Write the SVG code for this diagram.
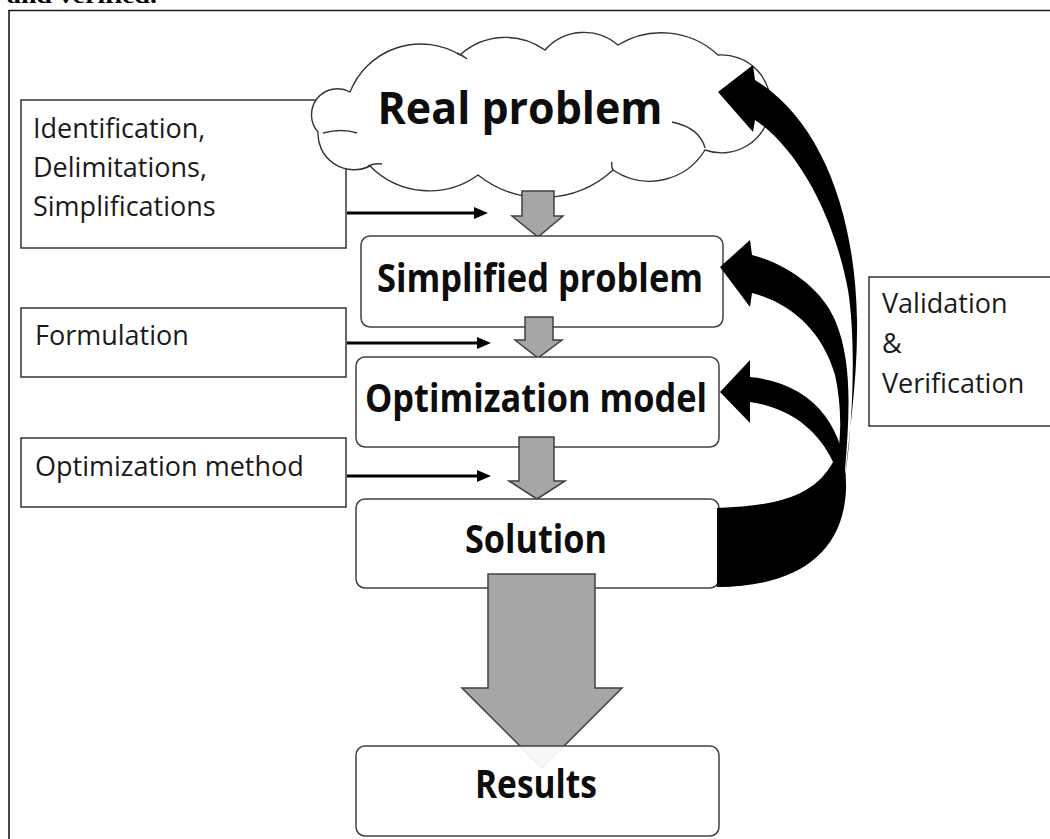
<svg xmlns="http://www.w3.org/2000/svg" width="1050" height="839" viewBox="0 0 1050 839">
  <defs>
    <style>
      .frame { fill: none; stroke: #1a1a1a; stroke-width: 1.6; }
      .lbox { fill: #ffffff; stroke: #333333; stroke-width: 1.5; }
      .node { fill: #ffffff; fill-opacity: 0.92; stroke: #404040; stroke-width: 1.5; }
      .cloud { fill: #ffffff; stroke: #333333; stroke-width: 1.4; }
      .cloud-in { fill: none; stroke: #333333; stroke-width: 1.4; }
      .block { fill: #a6a6a6; stroke: #404040; stroke-width: 1.5; stroke-linejoin: miter; }
      .feed { stroke: #000000; stroke-width: 3.2; fill: none; }
      .feedhead { fill: #000000; }
      .loop { fill: #000000; stroke: none; }
      .t { font-family: "Open Sans", "DejaVu Sans", sans-serif; font-size: 27px; fill: #1a1a1a; }
      .b { font-family: "Open Sans", "DejaVu Sans", sans-serif; font-weight: 700; fill: #0d0d0d; text-anchor: middle; }
      .cap { font-family: "Liberation Serif", serif; font-weight: 700; font-size: 20px; fill: #000000; }
    </style>
  </defs>

  <rect width="1050" height="839" fill="#ffffff"/>

  <!-- caption line cut at the top edge -->
  <text class="cap" x="7" y="3" textLength="150" lengthAdjust="spacingAndGlyphs">and verified.</text>

  <!-- outer frame (open on the right and bottom) -->
  <path class="frame" d="M9,839 L9,10.5 L1050,10.5"/>

  <!-- side input boxes -->
  <g id="identification">
    <rect class="lbox" x="21" y="100" width="325" height="148"/>
    <text class="t" x="33" y="138">Identification,</text>
    <text class="t" x="33" y="177">Delimitations,</text>
    <text class="t" x="33" y="216">Simplifications</text>
  </g>
  <g id="formulation">
    <rect class="lbox" x="21" y="308" width="325" height="69"/>
    <text class="t" x="35" y="345">Formulation</text>
  </g>
  <g id="optimization-method">
    <rect class="lbox" x="21" y="438" width="325" height="69"/>
    <text class="t" x="35" y="476">Optimization method</text>
  </g>

  <!-- real problem cloud -->
  <g id="real-problem">
    <path class="cloud" d="M350,92 A76,76 0 0 1 460,55 A68,68 0 0 1 545,50 A52,52 0 0 1 618,45 A83,83 0 0 1 718,55 A49,49 0 1 1 705,150 A65,65 0 0 1 613,170 A104,104 0 0 1 478,175 A83,83 0 0 1 370,166 A36,36 0 0 1 318,132 A26,26 0 0 1 350,92 Z"/>
    <path class="cloud-in" d="M672,122 Q700,128 705,148 M323,133 Q342,128 357,133 M368,166 Q375,163 382,164 M457,53 Q462,55 467,59 M612,162 Q611,167 613,170"/>
    <text class="b" x="520" y="124" font-size="44" textLength="285" lengthAdjust="spacingAndGlyphs">Real problem</text>
  </g>

  <!-- main chain: block arrows and process boxes -->
  <g id="connectors-main">
    <polygon class="block" points="522,191 554,191 554,216 563,216 538,237 512,216 522,216"/>
  </g>
  <g id="simplified-problem">
    <rect class="node" x="361" y="236" width="362" height="91" rx="9"/>
    <text class="b" x="540" y="292" font-size="39" textLength="326" lengthAdjust="spacingAndGlyphs">Simplified problem</text>
  </g>
  <g id="connectors-main-2">
    <polygon class="block" points="525,317 553,317 553,340 562,340 538,358 515,340 525,340"/>
  </g>
  <g id="optimization-model">
    <rect class="node" x="356" y="357" width="363" height="90" rx="9"/>
    <text class="b" x="536" y="412" font-size="39" textLength="342" lengthAdjust="spacingAndGlyphs">Optimization model</text>
  </g>
  <g id="connectors-main-3">
    <polygon class="block" points="519,437 554,437 554,481 565,481 537,499 509,481 519,481"/>
  </g>
  <g id="solution">
    <rect class="node" x="356" y="499" width="363" height="89" rx="9"/>
    <text class="b" x="536" y="553" font-size="39" textLength="142" lengthAdjust="spacingAndGlyphs">Solution</text>
  </g>
  <g id="connectors-main-4">
    <polygon class="block" points="488,574 595,574 595,688 622,688 542,768 462,688 488,688"/>
  </g>
  <g id="results">
    <rect class="node" x="356" y="746" width="363" height="90" rx="9"/>
    <text class="b" x="536" y="798" font-size="39" textLength="122" lengthAdjust="spacingAndGlyphs">Results</text>
  </g>

  <!-- validation label -->
  <g id="validation">
    <rect class="lbox" x="869" y="277" width="190" height="149"/>
    <text class="t" x="882" y="313">Validation</text>
    <text class="t" x="882" y="353">&amp;</text>
    <text class="t" x="882" y="393">Verification</text>
  </g>

  <!-- input arrows and feedback loops -->
  <g id="connectors">
    <line class="feed" x1="347" y1="213" x2="476" y2="213"/>
    <polygon class="feedhead" points="474,207 488,213 474,219"/>
    <line class="feed" x1="347" y1="343" x2="479" y2="343"/>
    <polygon class="feedhead" points="477,337 491,343 477,349"/>
    <line class="feed" x1="347" y1="476" x2="479" y2="476"/>
    <polygon class="feedhead" points="477,470 491,476 477,482"/>

    <!-- feedback to the real problem -->
    <path class="loop" d="M717,587 C790,585 838,555 843,500 C848,440 858,380 857,320 C855,210 820,120 755,80 L753,65 L718,92 L753,132 L755,120 C800,150 835,220 848,290 C856,340 853,420 846,470 C835,530 790,548 717,548 Z"/>
    <!-- feedback to the simplified problem -->
    <path class="loop" d="M717,580 C790,578 838,540 845,470 C850,410 852,360 835,320 C822,290 790,265 752,255 L750,240 L720,267 L750,307 L752,293 C790,303 822,330 835,375 C845,420 840,470 825,495 C800,525 760,532 717,532 Z"/>
    <!-- feedback to the optimization model -->
    <path class="loop" d="M717,587 C795,587 843,555 846,490 C848,430 815,383 750,377 L750,360 L720,392 L750,423 L750,402 C790,408 818,430 833,462 C815,495 780,506 717,508 Z"/>
  </g>
</svg>
